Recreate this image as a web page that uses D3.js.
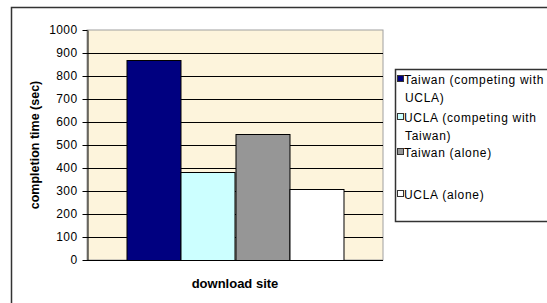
<!DOCTYPE html>
<html>
<head>
<meta charset="utf-8">
<script src="https://cdn.jsdelivr.net/npm/d3@7"></script>
<style>
  body { margin: 0; background: #fff; }
  text { font-family: "Liberation Sans", Arial, sans-serif; }
</style>
</head>
<body>
<div id="plot"></div>
<script>
// chart data
var categories = ["download site"];
var seriesNames = ["Taiwan (competing with UCLA)", "UCLA (competing with Taiwan)", "Taiwan (alone)", "UCLA (alone)"];
var seriesValues = [870, 382, 547, 310];
var seriesColors = ["#000080", "#ccffff", "#969696", "#ffffff"];
var legendLines = [["Taiwan (competing with", "UCLA)"], ["UCLA (competing with", "Taiwan)"], ["Taiwan (alone)"], ["UCLA (alone)"]];
var yTicks = [0, 100, 200, 300, 400, 500, 600, 700, 800, 900, 1000];

var svg = d3.select("#plot")
            .append("svg")
            .attr("width", 547)
            .attr("height", 303);

var view = {
    plot: { x: 87, y: 30, w: 296, h: 230 }
};

// outer chart border
svg.append("rect")
    .attr("x", 11.5).attr("y", 7.5)
    .attr("width", 560).attr("height", 320)
    .style("fill", "#fff")
    .style("stroke", "#333")
    .style("stroke-width", 1.5);

var g = svg.append("g")
    .attr("transform", "translate(" + view.plot.x + "," + view.plot.y + ")");

var yScale = d3.scaleLinear()
    .domain([0, 1000])
    .range([view.plot.h, 0]);

var x0 = d3.scaleBand()
    .domain(categories)
    .range([0, view.plot.w])
    .paddingInner(0)
    .paddingOuter(0.182);

var x1 = d3.scaleBand()
    .domain(seriesNames)
    .range([0, x0.bandwidth()]);

// plot background
g.append("rect")
    .attr("x", 0).attr("y", 0)
    .attr("width", view.plot.w).attr("height", view.plot.h)
    .style("fill", "#fdf4dc")
    .style("stroke", "#a0a0a0")
    .style("stroke-width", 1);

// gridlines
g.selectAll(".grid")
    .data(yTicks.slice(1, -1))
    .enter().append("line")
    .attr("class", "grid")
    .attr("x1", 0).attr("x2", view.plot.w)
    .attr("y1", function(d){ return Math.round(yScale(d)) + 0.5; })
    .attr("y2", function(d){ return Math.round(yScale(d)) + 0.5; })
    .style("stroke", "#000")
    .style("stroke-width", 1);

// bars
var group = g.selectAll(".group")
    .data(categories)
    .enter().append("g")
    .attr("transform", function(d){ return "translate(" + x0(d) + ",0)"; });

group.selectAll(".bar")
    .data(seriesNames.map(function(n, i){ return { name: n, value: seriesValues[i], color: seriesColors[i] }; }))
    .enter().append("rect")
    .attr("class", "bar")
    .attr("x", function(d){ return Math.round(x1(d.name)) + 0.5; })
    .attr("y", function(d){ return Math.round(yScale(d.value)) + 0.5; })
    .attr("width", function(d){ return Math.round(x1.bandwidth()); })
    .attr("height", function(d){ return Math.round(view.plot.h - yScale(d.value)); })
    .style("fill", function(d){ return d.color; })
    .style("stroke", "#000")
    .style("stroke-width", 1);

// y axis
var yAxis = g.append("g")
    .attr("transform", "translate(0.5,0)")
    .call(d3.axisLeft(yScale).tickValues(yTicks).tickFormat(d3.format("d"))
        .tickSize(5).tickPadding(5).tickSizeOuter(0));
yAxis.select(".domain").style("stroke", "#000");
yAxis.selectAll("line").style("stroke", "#000");
yAxis.selectAll("text")
    .style("font-size", "12px")
    .style("letter-spacing", "0.4px")
    .style("fill", "#000");

// x axis line
g.append("line")
    .attr("x1", 0).attr("x2", view.plot.w)
    .attr("y1", view.plot.h + 0.5).attr("y2", view.plot.h + 0.5)
    .style("stroke", "#000");

// axis titles
svg.append("text")
    .attr("transform", "translate(39,145) rotate(-90)")
    .attr("text-anchor", "middle")
    .style("font-size", "12.5px")
    .style("font-weight", "bold")
    .text("completion time (sec)");

svg.append("text")
    .attr("x", 235).attr("y", 288)
    .attr("text-anchor", "middle")
    .style("font-size", "13px")
    .style("font-weight", "bold")
    .text("download site");

// legend
var legend = svg.append("g")
    .attr("transform", "translate(395,69)");

legend.append("rect")
    .attr("x", 0.5).attr("y", 0.5)
    .attr("width", 200).attr("height", 152)
    .style("fill", "#fff")
    .style("stroke", "#333")
    .style("stroke-width", 1.5);

var rowY = [15, 53, 88, 130];
var item = legend.selectAll(".item")
    .data(seriesNames)
    .enter().append("g")
    .attr("class", "item")
    .attr("transform", function(d, i){ return "translate(0," + rowY[i] + ")"; });

item.append("rect")
    .attr("x", 2.5).attr("y", -8.5)
    .attr("width", 6).attr("height", 6)
    .style("fill", function(d, i){ return seriesColors[i]; })
    .style("stroke", "#333");

item.each(function(d, i){
    var t = d3.select(this).append("text")
        .attr("x", 9).attr("y", 0)
        .style("font-size", "12px")
        .style("letter-spacing", "0.7px");
    legendLines[i].forEach(function(line, j){
        t.append("tspan")
            .attr("x", j === 0 ? 9 : 10)
            .attr("dy", j === 0 ? 0 : 18)
            .text(line);
    });
});
</script>
</body>
</html>
